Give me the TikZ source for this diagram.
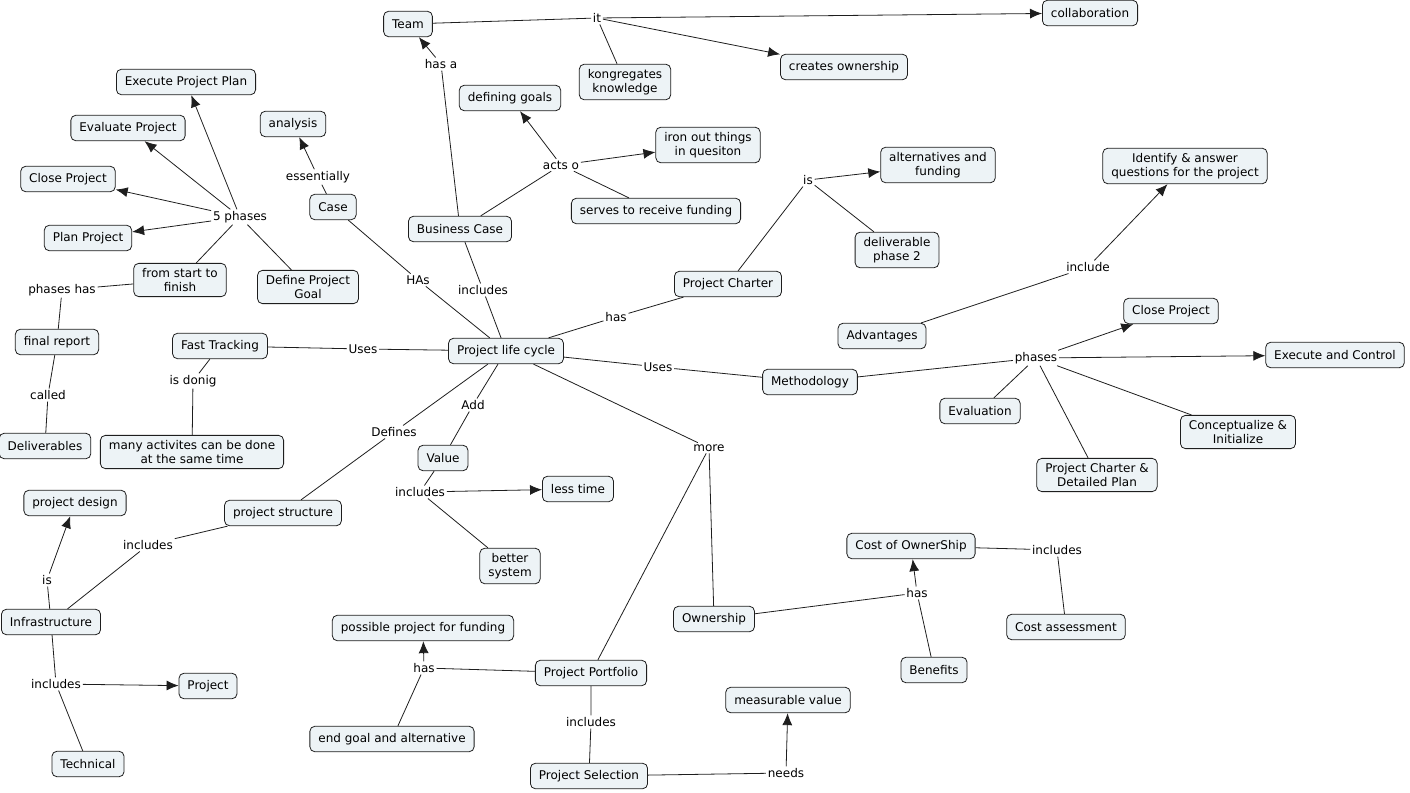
\documentclass[tikz,border=0pt]{standalone}
\usepackage{fontspec}
\setmainfont{DejaVu Sans}
\usetikzlibrary{arrows.meta}
\definecolor{cmapfill}{RGB}{237,243,246}
\definecolor{cmapline}{RGB}{30,30,30}

\begin{document}
\begin{tikzpicture}[x=1pt,y=-1pt,>={Latex[length=12pt,width=10pt]},line width=0.8pt,
    cmap/.style={draw=cmapline,fill=cmapfill,rounded corners=5pt,align=center,
      inner xsep=8.5pt,inner ysep=5pt,minimum height=25.5pt,font=\fontsize{12}{14}\selectfont},
    phrase/.style={inner sep=1.5pt,font=\fontsize{12}{14}\selectfont},
    conn/.style={draw=cmapline}]
    \useasboundingbox (0,0) rectangle (1410,792);
    \node[cmap] (team) at (408,24) {Team};
    \node[cmap] (collab) at (1090,13) {collaboration};
    \node[cmap] (owncreate) at (844,67) {creates ownership};
    \node[cmap] (kongr) at (625,82) {kongregates\\knowledge};
    \node[cmap] (execplan) at (186,82) {Execute Project Plan};
    \node[cmap] (defgoals) at (510,98) {defining goals};
    \node[cmap] (analysis) at (293,124) {analysis};
    \node[cmap] (evalproj) at (128,128) {Evaluate Project};
    \node[cmap] (ironout) at (708,145) {iron out things\\in quesiton};
    \node[cmap] (altfund) at (938,165) {alternatives and\\funding};
    \node[cmap] (identify) at (1185,166) {Identify \& answer\\questions for the project};
    \node[cmap] (closeL) at (68,179) {Close Project};
    \node[cmap] (case) at (333,207) {Case};
    \node[cmap] (serves) at (656,211) {serves to receive funding};
    \node[cmap] (bcase) at (460,229) {Business Case};
    \node[cmap] (deliv) at (897,250) {deliverable\\phase 2};
    \node[cmap] (planproj) at (88,238) {Plan Project};
    \node[cmap] (startfin) at (180,280) {from start to\\finish};
    \node[cmap] (defgoal) at (308,287) {Define Project\\Goal};
    \node[cmap] (charter) at (728,284) {Project Charter};
    \node[cmap] (closeR) at (1171,311) {Close Project};
    \node[cmap] (advant) at (882,336) {Advantages};
    \node[cmap] (finalrep) at (57,342) {final report};
    \node[cmap] (fasttrack) at (220,346) {Fast Tracking};
    \node[cmap] (plc) at (506,351) {Project life cycle};
    \node[cmap] (execctrl) at (1335,355) {Execute and Control};
    \node[cmap] (method) at (810,382) {Methodology};
    \node[cmap] (evaluation) at (980,411) {Evaluation};
    \node[cmap] (conceptinit) at (1238,432) {Conceptualize \&\\Initialize};
    \node[cmap] (deliverables) at (45,446) {Deliverables};
    \node[cmap] (manyact) at (192,452) {many activites can be done\\at the same time};
    \node[cmap] (value) at (443,458) {Value};
    \node[cmap] (chartplan) at (1097,475) {Project Charter \&\\Detailed Plan};
    \node[cmap] (lesstime) at (578,489) {less time};
    \node[cmap] (pdesign) at (75,503) {project design};
    \node[cmap] (pstruct) at (283,513) {project structure};
    \node[cmap] (bettersys) at (510,566) {better\\system};
    \node[cmap] (cost) at (911,546) {Cost of OwnerShip};
    \node[cmap] (infra) at (51,622) {Infrastructure};
    \node[cmap] (ownership) at (714,619) {Ownership};
    \node[cmap] (costassess) at (1066,627) {Cost assessment};
    \node[cmap] (possible) at (423,628) {possible project for funding};
    \node[cmap] (benefits) at (934,670) {Benefits};
    \node[cmap] (portfolio) at (591,673) {Project Portfolio};
    \node[cmap] (project) at (208,686) {Project};
    \node[cmap] (measurable) at (788,700) {measurable value};
    \node[cmap] (endgoal) at (392,739) {end goal and alternative};
    \node[cmap] (technical) at (88,764) {Technical};
    \node[cmap] (selection) at (589,776) {Project Selection};

    \node[phrase] (lit) at (597,18) {it};
    \node[phrase] (lhasa) at (441,64) {has a};
    \node[phrase] (lacts) at (561,165) {acts o};
    \node[phrase] (less) at (318,177) {essentially};
    \node[phrase] (lfive) at (240,217) {5 phases};
    \node[phrase] (lis) at (808,180) {is};
    \node[phrase] (linclude) at (1088,267) {include};
    \node[phrase] (lphhas) at (62,290) {phases has};
    \node[phrase] (lhascap) at (418,280) {HAs};
    \node[phrase] (linclbc) at (483,290) {includes};
    \node[phrase] (lhaspc) at (616,317) {has};
    \node[phrase] (lusesft) at (363,349) {Uses};
    \node[phrase] (lusesm) at (658,367) {Uses};
    \node[phrase] (lphases) at (1036,358) {phases};
    \node[phrase] (ldonig) at (193,381) {is donig};
    \node[phrase] (lcalled) at (48,395) {called};
    \node[phrase] (ladd) at (473,405) {Add};
    \node[phrase] (ldefines) at (394,432) {Defines};
    \node[phrase] (lmore) at (709,448) {more};
    \node[phrase] (linclval) at (420,492) {includes};
    \node[phrase] (linclps) at (148,545) {includes};
    \node[phrase] (linclcost) at (1057,550) {includes};
    \node[phrase] (lisinf) at (47,580) {is};
    \node[phrase] (lhasown) at (917,593) {has};
    \node[phrase] (lhaspf) at (424,668) {has};
    \node[phrase] (linclinf) at (56,684) {includes};
    \node[phrase] (linclpf) at (591,722) {includes};
    \node[phrase] (lneeds) at (786,773) {needs};

    \draw[conn] (bcase) -- (lhasa);
    \draw[conn,->] (lhasa) -- (team);
    \draw[conn] (team) -- (lit);
    \draw[conn,->] (lit) -- (collab);
    \draw[conn,->] (lit) -- (owncreate);
    \draw[conn] (kongr) -- (lit);
    \draw[conn] (bcase) -- (lacts);
    \draw[conn,->] (lacts) -- (defgoals);
    \draw[conn,->] (lacts) -- (ironout);
    \draw[conn] (serves) -- (lacts);
    \draw[conn] (case) -- (less);
    \draw[conn,->] (less) -- (analysis);
    \draw[conn] (case) -- (lhascap) -- (plc);
    \draw[conn] (bcase) -- (linclbc) -- (plc);
    \draw[conn] (plc) -- (lhaspc) -- (charter);
    \draw[conn] (charter) -- (lis);
    \draw[conn,->] (lis) -- (altfund);
    \draw[conn] (deliv) -- (lis);
    \draw[conn] (advant) -- (linclude);
    \draw[conn,->] (linclude) -- (identify);
    \draw[conn] (plc) -- (lusesm) -- (method);
    \draw[conn] (method) -- (lphases);
    \draw[conn,->] (lphases) -- (closeR);
    \draw[conn,->] (lphases) -- (execctrl);
    \draw[conn] (evaluation) -- (lphases);
    \draw[conn] (conceptinit) -- (lphases);
    \draw[conn] (chartplan) -- (lphases);
    \draw[conn] (defgoal) -- (lfive);
    \draw[conn] (startfin) -- (lfive);
    \draw[conn,->] (lfive) -- (execplan);
    \draw[conn,->] (lfive) -- (evalproj);
    \draw[conn,->] (lfive) -- (closeL);
    \draw[conn,->] (lfive) -- (planproj);
    \draw[conn] (startfin) -- (lphhas) -- (finalrep);
    \draw[conn] (finalrep) -- (lcalled) -- (deliverables);
    \draw[conn] (fasttrack) -- (lusesft) -- (plc);
    \draw[conn] (fasttrack) -- (ldonig) -- (manyact);
    \draw[conn] (plc) -- (ladd) -- (value);
    \draw[conn] (value) -- (linclval);
    \draw[conn,->] (linclval) -- (lesstime);
    \draw[conn] (bettersys) -- (linclval);
    \draw[conn] (plc) -- (ldefines) -- (pstruct);
    \draw[conn] (pstruct) -- (linclps) -- (infra);
    \draw[conn] (infra) -- (lisinf);
    \draw[conn,->] (lisinf) -- (pdesign);
    \draw[conn] (infra) -- (linclinf);
    \draw[conn,->] (linclinf) -- (project);
    \draw[conn] (technical) -- (linclinf);
    \draw[conn] (plc) -- (lmore);
    \draw[conn] (lmore) -- (portfolio);
    \draw[conn] (lmore) -- (ownership);
    \draw[conn] (ownership) -- (lhasown);
    \draw[conn,->] (lhasown) -- (cost);
    \draw[conn] (benefits) -- (lhasown);
    \draw[conn] (cost) -- (linclcost) -- (costassess);
    \draw[conn] (portfolio) -- (lhaspf);
    \draw[conn,->] (lhaspf) -- (possible);
    \draw[conn] (endgoal) -- (lhaspf);
    \draw[conn] (portfolio) -- (linclpf) -- (selection);
    \draw[conn] (selection) -- (lneeds);
    \draw[conn,->] (lneeds) -- (measurable);
\end{tikzpicture}
\end{document}
